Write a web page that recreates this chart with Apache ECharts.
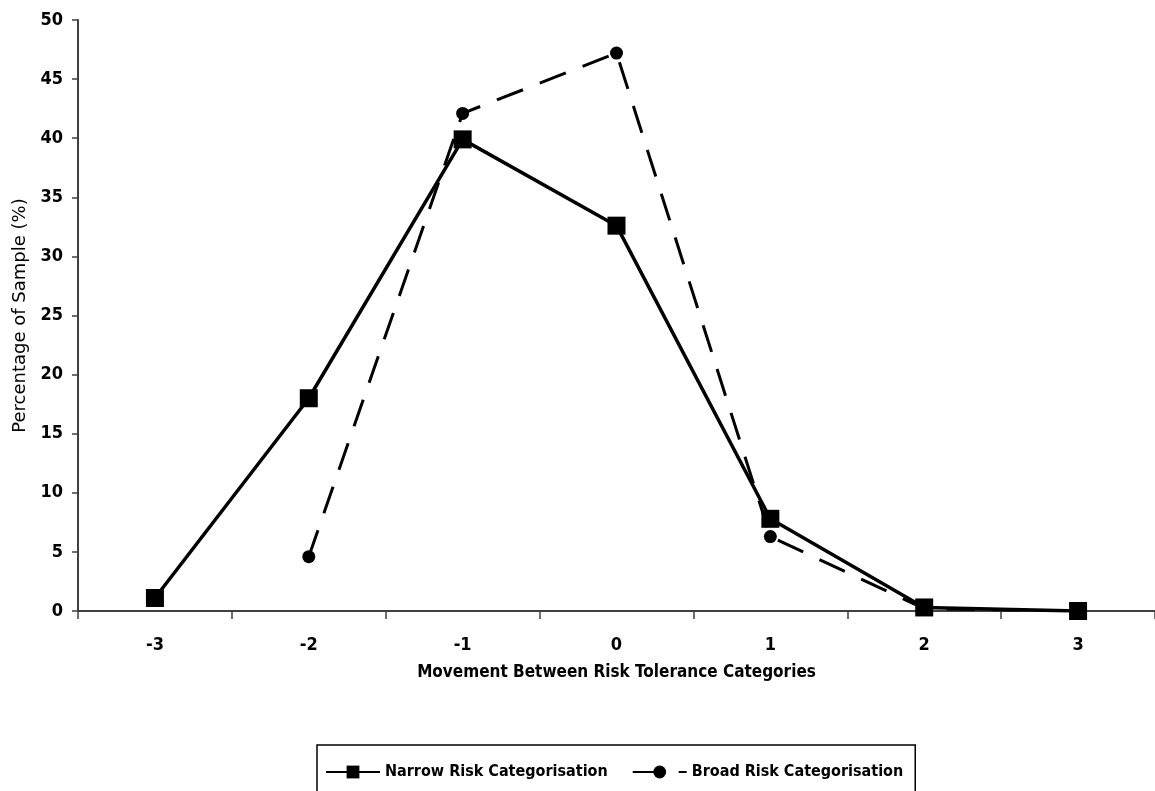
<!DOCTYPE html>
<html>
<head>
<meta charset="utf-8">
<script src="https://cdn.jsdelivr.net/npm/echarts@6/dist/echarts.min.js"></script>
<style>
html,body{margin:0;padding:0;background:#fff;}
#chart{width:1155px;height:791px;}
</style>
</head>
<body>
<div id="chart"></div>
<script>
var categories = ['-3', '-2', '-1', '0', '1', '2', '3'];
var narrowValues = [1.1, 18.0, 39.9, 32.6, 7.8, 0.3, 0.0];
var broadValues = [null, 4.6, 42.1, 47.2, 6.3, 0.2, 0.0];
var yTicks = { min: 0, max: 50, interval: 5 };

var narrowFont = '"Liberation Sans Narrow", "DejaVu Sans Condensed", "Arial Narrow", sans-serif';

var chart = echarts.init(document.getElementById('chart'), null, { renderer: 'canvas' });
chart.setOption({
  animation: false,
  backgroundColor: '#ffffff',
  grid: { left: 78, top: 20, width: 1080, height: 591, containLabel: false },
  legend: {
    data: ['Narrow Risk Categorisation', 'Broad Risk Categorisation'],
    left: 317,
    top: 745,
    itemWidth: 54,
    itemHeight: 16,
    itemGap: 24,
    borderColor: '#000',
    borderWidth: 1.5,
    padding: [19, 12, 20, 8],
    textStyle: { fontFamily: narrowFont, fontWeight: 'bold', fontSize: 16, color: '#000' }
  },
  xAxis: {
    type: 'category',
    data: categories,
    boundaryGap: true,
    name: 'Movement Between Risk Tolerance Categories',
    nameLocation: 'middle',
    nameGap: 53,
    nameTextStyle: { fontFamily: narrowFont, fontWeight: 'bold', fontSize: 17, color: '#000' },
    axisLine: { lineStyle: { color: '#404040', width: 2 } },
    axisTick: { show: true, alignWithLabel: false, length: 8, lineStyle: { color: '#404040', width: 1.5 } },
    axisLabel: { margin: 25, fontFamily: narrowFont, fontWeight: 'bold', fontSize: 18, color: '#000' },
    splitLine: { show: false }
  },
  yAxis: {
    type: 'value',
    min: yTicks.min,
    max: yTicks.max,
    interval: yTicks.interval,
    name: 'Percentage of Sample (%)',
    nameLocation: 'middle',
    nameGap: 49,
    nameRotate: 90,
    nameTextStyle: { fontFamily: '"DejaVu Sans", sans-serif', fontSize: 18, color: '#000' },
    axisLine: { show: true, lineStyle: { color: '#404040', width: 2 } },
    axisTick: { show: true, inside: false, length: 6, lineStyle: { color: '#404040', width: 1.5 } },
    axisLabel: { margin: 15, fontFamily: narrowFont, fontWeight: 'bold', fontSize: 18, color: '#000' },
    splitLine: { show: false }
  },
  series: [
    {
      name: 'Narrow Risk Categorisation',
      type: 'line',
      data: narrowValues,
      z: 3,
      symbol: 'rect',
      symbolSize: 18,
      itemStyle: { color: '#000' },
      lineStyle: { color: '#000', width: 3.5, type: 'solid' }
    },
    {
      name: 'Broad Risk Categorisation',
      type: 'line',
      data: broadValues,
      z: 2,
      symbol: 'circle',
      symbolSize: 13,
      connectNulls: false,
      itemStyle: { color: '#000' },
      lineStyle: { color: '#000', width: 3, type: [28, 18] }
    }
  ]
});
</script>
</body>
</html>
